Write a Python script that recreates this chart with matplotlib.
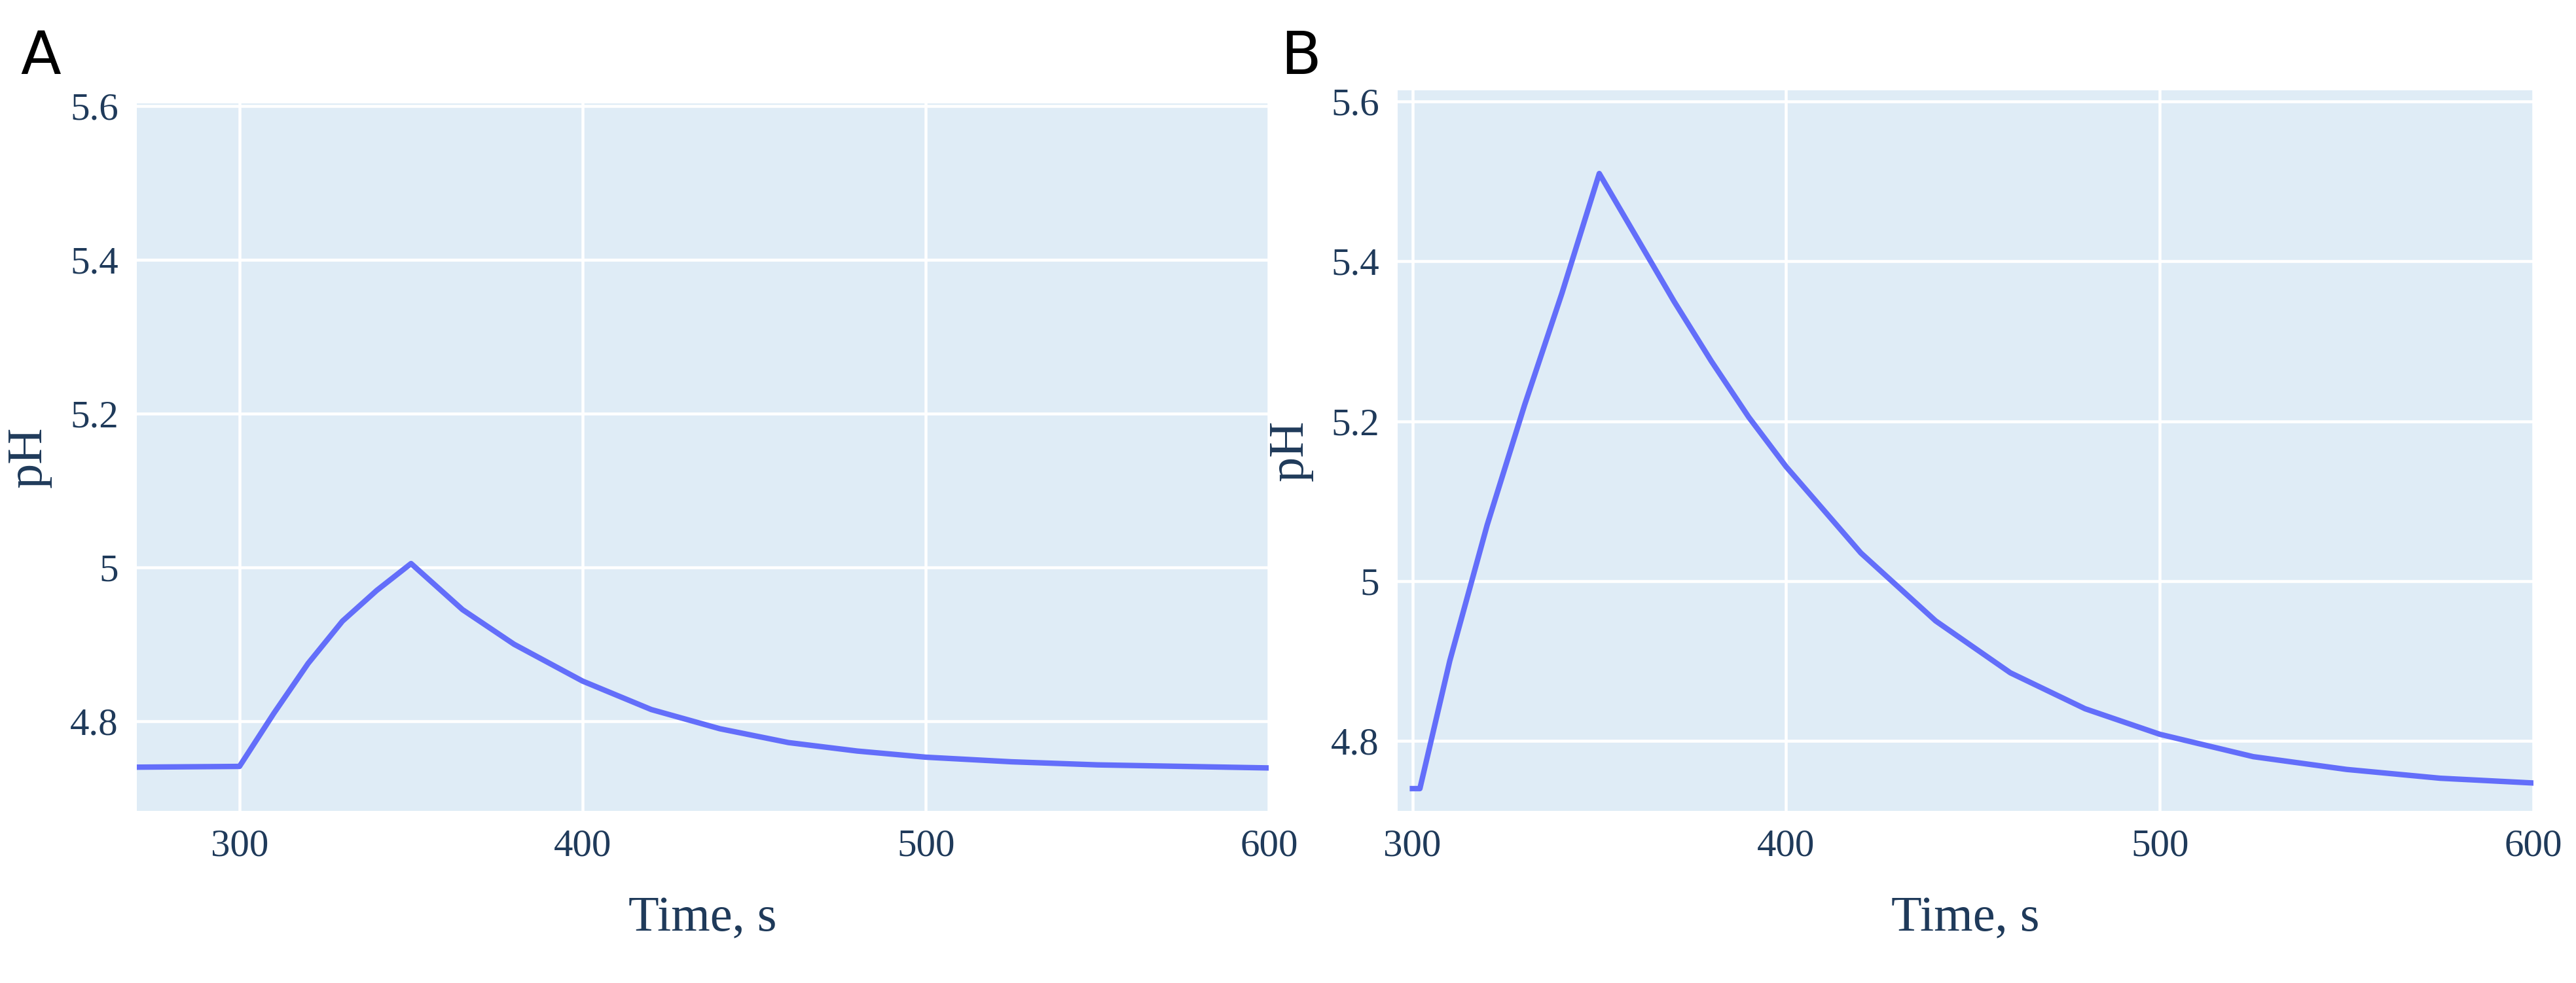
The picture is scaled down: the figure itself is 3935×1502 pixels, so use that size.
import matplotlib
matplotlib.use("Agg")
import matplotlib.pyplot as plt

time_a = [270, 300, 310, 320, 330, 340, 350, 365, 380, 400, 420, 440, 460, 480, 500, 525, 550, 575, 600]
ph_a = [4.74, 4.741, 4.81, 4.875, 4.93, 4.97, 5.005, 4.945, 4.90, 4.852, 4.815, 4.79, 4.772, 4.761, 4.753, 4.747, 4.743, 4.741, 4.739]
time_b = [300, 302, 310, 320, 330, 340, 350, 360, 370, 380, 390, 400, 420, 440, 460, 480, 500, 525, 550, 575, 600]
ph_b = [4.74, 4.74, 4.90, 5.07, 5.22, 5.36, 5.51, 5.43, 5.35, 5.275, 5.205, 5.143, 5.035, 4.95, 4.885, 4.84, 4.808, 4.78, 4.764, 4.753, 4.747]
xticks_a = [300, 400, 500, 600]
xticks_b = [300, 400, 500, 600]
yticks = [4.8, 5.0, 5.2, 5.4, 5.6]
ytick_labels = ["4.8", "5", "5.2", "5.4", "5.6"]

txt = "#1f3a5a"
bg = "#dfecf6"
line = "#636efa"
fam = "Liberation Serif"

fig = plt.figure(figsize=(15.74, 6.008), dpi=250)
axA = fig.add_axes([0.053, 0.175, 0.4396, 0.72])
axB = fig.add_axes([0.5425, 0.175, 0.441, 0.733])

for ax, t, p, xt, xl, yl in [(axA, time_a, ph_a, xticks_a, (270, 600), (4.683, 5.604)),
                             (axB, time_b, ph_b, xticks_b, (296, 600), (4.712, 5.614))]:
    ax.set_facecolor(bg)
    ax.plot(t, p, color=line, lw=2.4, zorder=3)
    ax.set_xlim(*xl)
    ax.set_ylim(*yl)
    ax.set_xticks(xt)
    ax.set_yticks(yticks)
    ax.set_yticklabels(ytick_labels)
    ax.grid(True, color="white", lw=1.3)
    ax.set_axisbelow(True)
    for s in ax.spines.values():
        s.set_visible(False)
    ax.tick_params(length=0, labelsize=17, labelcolor=txt, pad=8)
    for lab in ax.get_xticklabels() + ax.get_yticklabels():
        lab.set_family(fam)
    ax.set_xlabel("Time, s", fontsize=22, color=txt, family=fam, labelpad=14)
    ax.set_ylabel("pH", fontsize=22, color=txt, family=fam, labelpad=8)

fig.text(0.008, 0.925, "A", fontsize=26, color="black", family="DejaVu Sans")
fig.text(0.497, 0.925, "B", fontsize=26, color="black", family="DejaVu Sans")

fig.savefig("out.png", dpi=250, facecolor="white")
